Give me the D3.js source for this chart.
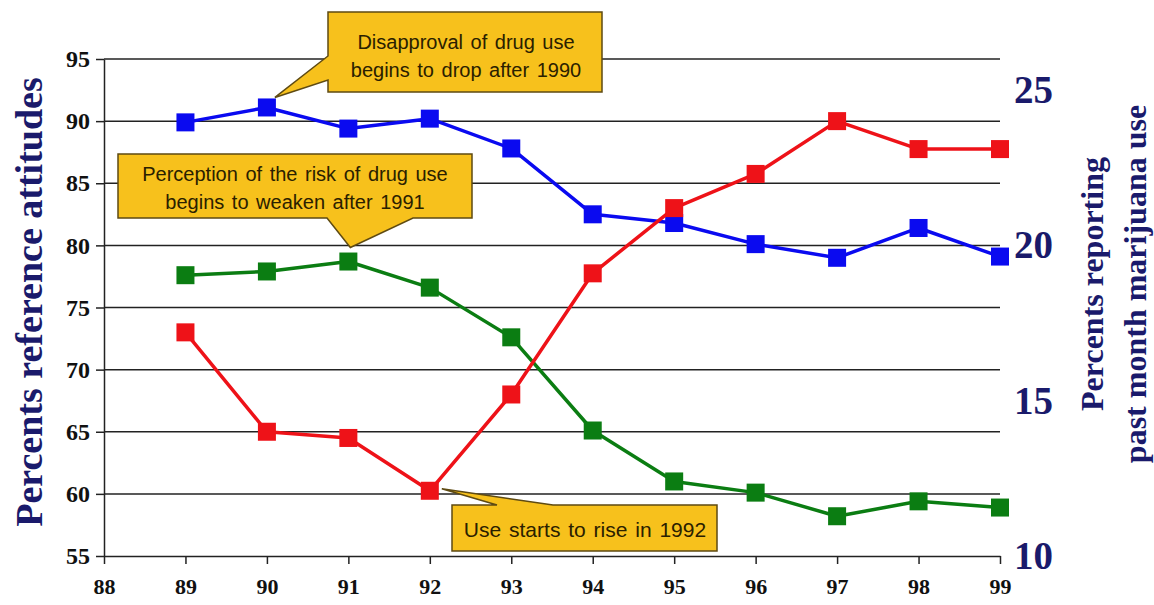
<!DOCTYPE html>
<html>
<head>
<meta charset="utf-8">
<script src="https://cdn.jsdelivr.net/npm/d3@7"></script>
<style>
  html, body { margin: 0; padding: 0; background: #ffffff; }
  svg { display: block; }
</style>
</head>
<body>
<svg id="chart" width="1154" height="605"></svg>
<script>
// ---- data ----
const years = [89, 90, 91, 92, 93, 94, 95, 96, 97, 98, 99];
const xTickYears = [88, 89, 90, 91, 92, 93, 94, 95, 96, 97, 98, 99];
const disapproval = [89.9, 91.1, 89.4, 90.2, 87.8, 82.5, 81.8, 80.1, 79.0, 81.4, 79.1];   // left axis, blue
const riskPerception = [77.6, 77.9, 78.7, 76.6, 72.6, 65.1, 61.0, 60.1, 58.2, 59.4, 58.9]; // left axis, green
const marijuanaUse = [17.2, 14.0, 13.8, 12.1, 15.2, 19.1, 21.2, 22.3, 24.0, 23.1, 23.1];   // right axis, red
const leftTicks = [55, 60, 65, 70, 75, 80, 85, 90, 95];
const rightTicks = [10, 15, 20, 25];
const leftTitle = "Percents reference attitudes";
const rightTitle = ["Percents reporting", "past month marijuana use"];
const notes = [
  ["Disapproval of drug use", "begins to drop after 1990"],
  ["Perception of the risk of drug use", "begins to weaken  after 1991"],
  ["Use starts to rise in 1992"]
];

// ---- layout ----
const svg = d3.select("#chart");
const L = 104, R = 1000, T = 59, B = 556;
const x = d3.scaleLinear().domain([88, 99]).range([L, R]);
const yL = d3.scaleLinear().domain([55, 95]).range([B, T]);
const yR = d3.scaleLinear().domain([10, 26]).range([B, T]);

const serif = "'Liberation Serif', 'Times New Roman', serif";
const sans = "'Liberation Sans', Arial, sans-serif";
const navy = "#1a1a6b";

// gridlines
svg.append("g").selectAll("line").data(leftTicks.filter(d => d > 55)).join("line")
  .attr("x1", L).attr("x2", R)
  .attr("y1", d => yL(d)).attr("y2", d => yL(d))
  .attr("stroke", "#222").attr("stroke-width", 1.5);

// left axis
const gL = svg.append("g").attr("transform", `translate(${L},0)`)
  .call(d3.axisLeft(yL).tickValues(leftTicks).tickSize(8).tickSizeOuter(0).tickPadding(6));
gL.select(".domain").attr("stroke", "#222").attr("stroke-width", 1.5);
gL.selectAll(".tick line").attr("stroke", "#222").attr("stroke-width", 1.5);
gL.selectAll("text").attr("font-family", serif).attr("font-weight", "bold")
  .attr("font-size", 24).attr("fill", "#111");

// bottom axis
const gB = svg.append("g").attr("transform", `translate(0,${B})`)
  .call(d3.axisBottom(x).tickValues(xTickYears).tickSize(8).tickSizeOuter(0).tickPadding(14));
gB.select(".domain").attr("stroke", "#222").attr("stroke-width", 1.5);
gB.selectAll(".tick line").attr("stroke", "#222").attr("stroke-width", 1.5);
gB.selectAll("text").attr("font-family", serif).attr("font-weight", "bold")
  .attr("font-size", 22).attr("fill", "#111");

// right axis (labels only)
const gR = svg.append("g").attr("transform", `translate(${R},0)`)
  .call(d3.axisRight(yR).tickValues(rightTicks).tickSize(0).tickPadding(14));
gR.select(".domain").remove();
gR.selectAll("text").attr("font-family", serif).attr("font-weight", "bold")
  .attr("font-size", 39).attr("fill", navy);

// axis titles
svg.append("text")
  .attr("transform", `translate(42,302) rotate(-90)`)
  .attr("text-anchor", "middle")
  .attr("font-family", serif).attr("font-weight", "bold").attr("font-size", 38)
  .attr("fill", navy).text(leftTitle);
svg.append("g").selectAll("text").data(rightTitle).join("text")
  .attr("transform", (d, i) => `translate(${1103 + i * 43},284) rotate(-90)`)
  .attr("text-anchor", "middle")
  .attr("font-family", serif).attr("font-weight", "bold").attr("font-size", 32)
  .attr("fill", navy).text(d => d);

// series
const series = [
  { vals: disapproval, y: yL, color: "#0a0af0" },
  { vals: riskPerception, y: yL, color: "#0b7d12" },
  { vals: marijuanaUse, y: yR, color: "#ee1218" }
];
const ms = 18;
series.forEach(s => {
  const pts = years.map((yr, i) => [x(yr), s.y(s.vals[i])]);
  svg.append("path").attr("d", d3.line()(pts))
    .attr("fill", "none").attr("stroke", s.color).attr("stroke-width", 3.5)
    .attr("stroke-linejoin", "round");
  svg.append("g").selectAll("rect").data(pts).join("rect")
    .attr("x", d => d[0] - ms / 2).attr("y", d => d[1] - ms / 2)
    .attr("width", ms).attr("height", ms).attr("fill", s.color);
});

// callouts
const gold = "#f7c11c", edge = "#5e4a12", ink = "#2a2000";
function callout(pathPts, lines, cx, cy0, lh, fs) {
  svg.append("path").attr("d", d3.line()(pathPts) + "Z")
    .attr("fill", gold).attr("stroke", edge).attr("stroke-width", 1.5)
    .attr("stroke-linejoin", "miter");
  svg.append("g").selectAll("text").data(lines).join("text")
    .attr("x", cx).attr("y", (d, i) => cy0 + i * lh)
    .attr("text-anchor", "middle").attr("dominant-baseline", "central")
    .attr("font-family", sans).attr("font-size", fs).attr("fill", ink)
    .attr("word-spacing", 2)
    .text(d => d);
}
// 1: disapproval, pointing at blue 1990
{
  const tx = x(90) + 8, ty = yL(disapproval[1]) - 10;
  callout([[328, 12], [602, 12], [602, 92], [328, 92], [328, 80], [tx, ty], [328, 56]],
    notes[0], 466, 42, 28, 20);
}
// 2: risk perception, pointing at green 1991
{
  const tx = x(91) + 2, ty = yL(riskPerception[2]) - 14;
  callout([[118, 154], [472, 154], [472, 218], [413, 218], [tx, ty], [327, 218], [118, 218]],
    notes[1], 295, 174, 28, 20);
}
// 3: use rises, pointing at red 1992
{
  const tx = x(92) + 12, ty = yR(marijuanaUse[3]) - 2;
  callout([[452, 505], [497, 505], [tx, ty], [553, 505], [717, 505], [717, 551], [452, 551]],
    notes[2], 585, 529, 28, 21);
}
</script>
</body>
</html>
